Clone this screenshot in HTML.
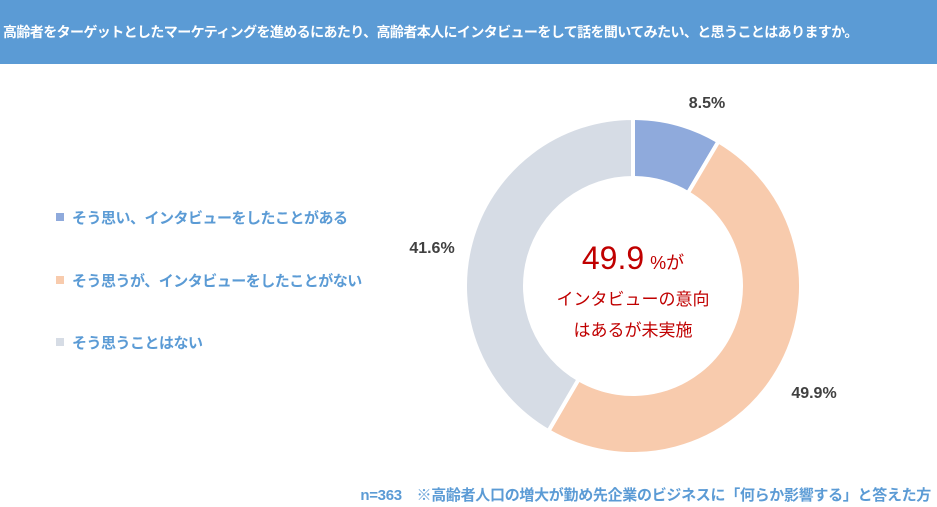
<!DOCTYPE html>
<html><head><meta charset="utf-8"><style>
body{margin:0;width:937px;height:507px;background:#fff;font-family:"Liberation Sans","Noto Sans CJK JP",sans-serif;position:relative;overflow:hidden}
.hdr{position:absolute;left:0;top:0;width:937px;height:64px;background:#5B9BD5;color:#fff;font-weight:bold;font-size:14px;line-height:64px;padding-left:3px;letter-spacing:-0.6px;box-sizing:border-box}
.leg{position:absolute;left:56px;font-size:15px;font-weight:bold;color:#5B9BD5;letter-spacing:-0.5px}
.leg i{display:inline-block;width:8px;height:8px;margin-right:8px;vertical-align:2px}
.foot{position:absolute;right:6px;top:484px;font-size:15px;font-weight:bold;color:#5B9BD5;letter-spacing:-0.3px}
</style></head><body>
<div class="hdr">高齢者をターゲットとしたマーケティングを進めるにあたり、高齢者本人にインタビューをして話を聞いてみたい、と思うことはありますか。</div>
<div class="leg" style="top:207px"><i style="background:#8FAADC"></i>そう思い、インタビューをしたことがある</div>
<div class="leg" style="top:270px"><i style="background:#F8CBAD"></i>そう思うが、インタビューをしたことがない</div>
<div class="leg" style="top:332px"><i style="background:#D6DCE5"></i>そう思うことはない</div>
<svg id="chart" width="937" height="507" style="position:absolute;left:0;top:0"></svg>
<div class="foot">n=363　※高齢者人口の増大が勤め先企業のビジネスに「何らか影響する」と答えた方</div>
<script>
const categories=["そう思い、インタビューをしたことがある","そう思うが、インタビューをしたことがない","そう思うことはない"];
const values=[8.5,49.9,41.6];
const colors=["#8FAADC","#F8CBAD","#D6DCE5"];
const labelPos=[[707,102],[814,392],[432,247]];
const svg=document.getElementById('chart');
const NS="http://www.w3.org/2000/svg";
const cx=633,cy=286,R=168,r=108;
const total=values.reduce((a,b)=>a+b,0);
function pt(a,rad){return [cx+rad*Math.sin(a),cy-rad*Math.cos(a)];}
let a0=0;
values.forEach((v,i)=>{
  const a1=a0+v/total*2*Math.PI;
  const large=(a1-a0)>Math.PI?1:0;
  const p1=pt(a0,R),p2=pt(a1,R),p3=pt(a1,r),p4=pt(a0,r);
  const p=document.createElementNS(NS,'path');
  p.setAttribute('d',`M${p1[0]},${p1[1]}A${R},${R} 0 ${large} 1 ${p2[0]},${p2[1]}L${p3[0]},${p3[1]}A${r},${r} 0 ${large} 0 ${p4[0]},${p4[1]}Z`);
  p.setAttribute('fill',colors[i]);p.setAttribute('stroke','#fff');p.setAttribute('stroke-width','4');
  
  
  svg.appendChild(p);
  const t=document.createElementNS(NS,'text');
  t.setAttribute('x',labelPos[i][0]);t.setAttribute('y',labelPos[i][1]+6);
  t.setAttribute('text-anchor','middle');t.setAttribute('font-size','16');t.setAttribute('font-weight','bold');t.setAttribute('fill','#404040');
  t.setAttribute('font-family','"Liberation Sans",sans-serif');
  t.textContent=v.toFixed(1)+'%';
  
  
  svg.appendChild(t);
  a0=a1;
});
const c1=document.createElementNS(NS,'text');
c1.setAttribute('x',633);c1.setAttribute('y',269);c1.setAttribute('text-anchor','middle');c1.setAttribute('fill','#C00000');
c1.setAttribute('font-family','"Liberation Sans","Noto Sans CJK JP",sans-serif');
c1.innerHTML='<tspan font-size="32">'+values[1].toFixed(1)+'</tspan><tspan font-size="18" dx="6">%が</tspan>';


svg.appendChild(c1);
[["インタビューの意向",305],["はあるが未実施",336]].forEach((l,k)=>{
  const t=document.createElementNS(NS,'text');
  t.setAttribute('x',633);t.setAttribute('y',l[1]);t.setAttribute('text-anchor','middle');t.setAttribute('fill','#C00000');t.setAttribute('font-size','17');
  t.setAttribute('font-family','"Liberation Sans","Noto Sans CJK JP",sans-serif');
  t.textContent=l[0];
  
  
  svg.appendChild(t);
});
</script>
</body></html>
